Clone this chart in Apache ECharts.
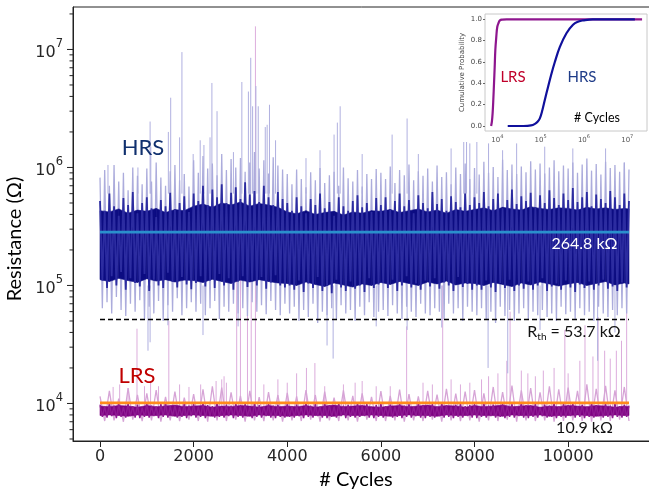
<!DOCTYPE html>
<html><head><meta charset="utf-8">
<script src="https://cdn.jsdelivr.net/npm/echarts@6/dist/echarts.min.js"></script>
<style>html,body{margin:0;padding:0;background:#fff}#c{width:649px;height:498px}</style>
</head><body><div id="c"></div>
<script>
// ---------- data (resistance in kΩ, cycles on x) ----------
const coreStep = 50;    // cycles between successive peak/trough readings
const bandStep = 200;   // cycles between successive solid-band edge readings
const cycleEnd = 11300;

// HRS: edges of the solid dark band
const hrsBandTop = [430,420,445,410,435,425,450,415,440,430, 470,490,460,500,480,510,470,495,480,460,
  420,405,430,400,415,425,395,420,410,430, 425,440,415,430,445,420,435,410,440,425,
  440,455,430,460,445,435,465,450,440,455, 450,435,460,445,455,440,450,445];
const hrsBandBot = [112,108,115,110,106,114,109,112,107,111, 110,106,113,108,104,111,107,112,108,105,
  104,100,107,102,98,105,101,97,103,100, 106,102,108,104,100,107,103,109,101,105,
  104,100,106,102,98,105,101,107,103,99, 103,106,100,104,108,101,105,103];
// HRS: alternating local peaks / troughs of the dark core
const hrsCore = [
520,110,430,95,600,120,470,100,390,130,550,92,480,115,620,105,410,98,500,125,
560,90,450,112,380,100,530,95,470,128,610,108,440,96,500,118,570,102,420,93,
600,105,520,120,700,98,480,110,650,95,560,125,720,100,500,115,610,92,680,108,
540,120,750,97,590,110,630,100,510,118,700,94,560,106,480,122,620,100,540,96,
500,100,430,92,560,110,470,88,410,104,540,95,480,118,600,90,450,100,510,86,
390,112,560,96,470,90,430,108,520,94,580,100,460,88,500,115,420,95,550,102,
480,105,560,95,440,112,520,90,600,100,470,120,530,96,410,104,580,92,500,110,
450,98,620,115,490,94,540,106,430,100,570,90,510,118,460,97,600,103,480,92,
560,100,500,92,620,110,470,96,540,88,600,105,450,95,530,112,650,90,490,100,
570,94,520,108,610,92,460,100,580,115,500,90,640,98,550,104,480,92,600,110,
530,96,670,88,510,102,560,95,620,108,470,92,590,100,540,112,500,94,630,98,
560,90,480,106,600,96,520];
// HRS: alternating peaks / troughs of the light outer envelope
const hrsLight = [
820,64,950,72,700,58,1050,80,760,62,900,55,640,70,1000,60,850,75,720,52,
980,66,760,58,1100,74,820,50,700,68,930,60,1050,78,780,56,880,64,690,72,
1150,60,900,70,1250,56,980,64,1080,74,860,52,1300,66,950,60,1180,70,1000,58,
1200,64,920,55,1100,72,1350,60,980,68,1150,57,890,74,1220,62,1040,56,960,70,
880,58,720,66,960,50,800,62,680,54,910,70,780,48,990,60,740,56,860,64,
920,52,700,68,1000,58,810,62,760,50,950,66,690,56,880,72,800,54,970,60,
900,62,800,55,1020,68,740,58,950,52,860,66,1060,60,780,54,930,70,850,58,
980,56,760,64,1040,60,830,52,910,70,720,58,1000,64,880,50,1080,66,800,60,
990,56,870,64,1120,52,900,60,1010,48,830,66,1160,55,950,62,1060,50,880,58,
1020,64,910,52,1130,60,960,56,1080,62,890,54,1000,58,1150,50,930,66,1040,57,
980,60,1100,52,900,64,1060,56,1190,60,940,50,1070,66,870,58,1120,54,990,62,
1050,56,920,64,1100,58,960];
// HRS: isolated tall excursions [cycle, kΩ]
const hrsSpikes = [[170,1050],[810,1000],[1070,2450],[1085,1500],[1460,2000],[1510,3900],[1700,1800],[1750,9500],
[1990,1300],[2140,1700],[2220,1550],[2350,1800],[2390,5200],[2500,3000],[2850,1350],[3030,5300],[3170,4400],
[3220,8500],[3260,3300],[3330,4900],[3380,3300],[3530,2200],[3570,2300],[3620,3400],[3750,1700],[4400,1200],
[4700,1400],[5000,1900],[5070,2400],[5130,3300],[5600,1300],[6240,1900],[6560,2600],[6800,1300],[7500,1450],
[7770,1650],[7830,2200],[7900,1600],[8050,2600],[8300,1600],[8600,1400],[8900,1600],[9500,1500],[10100,1450],
[10800,1450],[11200,1100]];
// HRS: isolated low excursions [cycle, kΩ]
const hrsDips = [[1025,28],[1070,33],[1450,46],[2200,38],[2950,45],[4850,31],[4980,24],[5900,45],[6560,42],
[7300,44],[8290,20],[8710,18],[9400,42],[10630,23],[11000,40]];

// LRS: edges of the solid dark band
const lrsBandTop = [9.5,9.4,9.6,9.5,9.3,9.6,9.4,9.5,9.7,9.4, 9.5,9.6,9.3,9.5,9.4,9.6,9.5,9.3,9.6,9.4,
  9.5,9.4,9.6,9.3,9.5,9.7,9.4,9.5,9.6,9.4, 9.3,9.5,9.6,9.4,9.5,9.7,9.4,9.6,9.5,9.3,
  9.6,9.4,9.5,9.7,9.4,9.5,9.6,9.3,9.5,9.4, 9.6,9.5,9.4,9.6,9.5,9.3,9.5,9.4];
const lrsBandBot = [7.9,8.0,7.9,7.8,8.0,7.9,7.9,8.0,7.8,7.9, 8.0,7.9,7.8,7.9,8.0,7.9,7.8,8.0,7.9,7.9,
  7.8,7.9,8.0,7.9,7.9,7.8,8.0,7.9,7.9,8.0, 7.9,7.8,7.9,8.0,7.9,7.9,7.8,8.0,7.9,7.9,
  8.0,7.9,7.9,7.8,8.0,7.9,7.9,8.0,7.8,7.9, 7.9,8.0,7.9,7.8,7.9,8.0,7.9,7.9];
// LRS: alternating local peaks / troughs of the dark core
const lrsCore = [
9.8,7.7,9.4,7.6,10.1,7.8,9.6,7.5,9.9,7.7,9.3,7.6,10.0,7.8,9.5,7.6,9.8,7.5,9.2,7.7,
10.1,7.6,9.6,7.8,9.4,7.5,9.9,7.7,10.2,7.6,9.5,7.8,9.7,7.6,9.3,7.7,10.0,7.5,9.6,7.8,
9.9,7.6,9.4,7.7,10.1,7.5,9.7,7.8,9.5,7.6,10.2,7.7,9.3,7.6,9.8,7.8,9.6,7.5,10.0,7.7,
9.5,7.6,9.9,7.8,9.3,7.5,10.1,7.7,9.7,7.6,9.4,7.8,10.0,7.6,9.6,7.5,9.8,7.7,9.2,7.6,
10.0,7.7,9.5,7.6,9.8,7.8,9.3,7.5,10.1,7.7,9.6,7.6,9.9,7.8,9.4,7.6,10.2,7.5,9.7,7.7,
9.4,7.6,10.0,7.8,9.6,7.5,9.8,7.7,9.3,7.6,10.1,7.7,9.5,7.8,9.9,7.6,9.2,7.5,9.7,7.7,
10.0,7.6,9.5,7.8,9.8,7.6,9.4,7.7,10.2,7.5,9.6,7.7,9.9,7.6,9.3,7.8,10.0,7.6,9.7,7.5,
9.5,7.7,9.9,7.6,9.3,7.8,10.1,7.6,9.6,7.7,9.4,7.5,9.8,7.7,10.0,7.6,9.5,7.8,9.7,7.6,
9.9,7.5,9.4,7.7,10.1,7.6,9.6,7.8,9.8,7.6,9.3,7.7,10.0,7.5,9.5,7.7,9.9,7.6,9.4,7.8,
10.2,7.6,9.7,7.5,9.5,7.7,10.0,7.6,9.3,7.8,9.8,7.6,9.6,7.7,10.1,7.5,9.4,7.7,9.9,7.6,
9.6,7.8,10.0,7.6,9.5,7.7,9.8,7.5,9.3,7.7,10.1,7.6,9.7,7.8,9.4,7.6,9.9,7.7,9.6,7.5,
10.0,7.7,9.5,7.6,9.8,7.7,9.6];
// LRS: alternating peaks / troughs of the light envelope (every 100 cycles)
const lrsLight = [
11.5,7.1,12.8,7.2,11.0,7.0,13.5,7.3,11.8,7.1,12.2,7.2,13.0,7.0,11.4,7.2,12.6,7.1,11.2,7.3,
12.0,7.1,13.2,7.0,14.0,7.2,13.6,7.1,12.4,7.3,11.6,7.0,12.8,7.2,11.3,7.1,12.5,7.2,11.8,7.0,
12.3,7.2,11.5,7.1,13.0,7.3,11.8,7.0,12.6,7.2,11.2,7.1,12.9,7.2,11.6,7.0,12.2,7.3,11.4,7.1,
12.7,7.1,11.6,7.2,13.1,7.0,12.0,7.2,11.5,7.1,12.8,7.3,11.9,7.0,13.3,7.2,12.1,7.1,12.6,7.2,
13.0,7.0,12.2,7.2,13.8,7.1,12.5,7.3,14.2,7.0,12.9,7.2,13.5,7.1,12.4,7.2,14.0,7.0,13.2,7.1,
13.6,7.2,12.8,7.1,14.5,7.0,13.3,7.2,14.1,7.1,12.9,7.3,13.8,7.1];
const lrsLightStep = 100;
// LRS: isolated high excursions [cycle, kΩ]
const lrsSpikes = [[280,13.8],[420,14.5],[600,13.5],[790,43],[950,14],[1080,15],[1250,14],[1470,50],[1700,14.5],
[1900,13.8],[2150,14.5],[2480,15.5],[2600,16],[2650,17],[2700,15],[2920,300],[3000,250],[3150,400],[3230,280],
[3320,15700],[3500,14.5],[3800,16],[4000,15],[4200,18],[4410,20],[4590,22],[4800,14],[5200,14.5],[5450,15],
[5600,15.5],[5900,14],[6200,14],[6550,45],[6900,15],[7100,14.5],[7320,100],[7500,16],[7700,14.5],[7900,15],
[8150,16],[8300,17],[8500,18],[8690,23],[8760,60],[9000,19],[9140,18],[9300,17],[9470,19],[9700,20],[9930,42],
[10000,18],[10250,23],[10360,46],[10530,25],[10640,54],[10780,28],[10900,24],[11030,28],[11140,34],[11250,75]];

// reference levels drawn as horizontal lines (kΩ)
const hrsLevel = 283, lrsLevel = 10.1, rthLevel = 51.5;

// tick values
const xTicks = [0, 2000, 4000, 6000, 8000, 10000];
const yMajor = [1e4, 1e5, 1e6, 1e7];
const yMinor = [5e3,6e3,7e3,8e3,9e3, 2e4,3e4,4e4,5e4,6e4,7e4,8e4,9e4, 2e5,3e5,4e5,5e5,6e5,7e5,8e5,9e5,
                2e6,3e6,4e6,5e6,6e6,7e6,8e6,9e6, 2e7];
const insetYTicks = [0, 0.2, 0.4, 0.6, 0.8, 1.0];

// inset cumulative distributions (resistance kΩ, probability)
const cdfLrsR = [7.2, 7.5, 7.8, 8.1, 8.4, 8.7, 9.0, 9.5, 10.0, 10.8, 11.5, 13, 16.4, 40, 300, 3000, 22000];
const cdfLrsP = [0, 0.04, 0.12, 0.25, 0.40, 0.55, 0.71, 0.84, 0.93, 0.97, 0.99, 0.997, 1, 1, 1, 1, 1];
const cdfHrsR = [17.4, 40, 60, 74, 85, 96, 110, 125, 149, 178, 213, 277, 395, 560, 750, 950, 1600, 5000, 15000];
const cdfHrsP = [0, 0, 0.005, 0.02, 0.04, 0.072, 0.15, 0.244, 0.368, 0.49, 0.60, 0.74, 0.87, 0.95, 0.98, 0.99, 1, 1, 1];

// ---------- build ----------
const K = 1000;
const xMin = -577, xMax = 11877;
const zig = (arr, step) => arr.map((v, i) => [Math.min(i * step, cycleEnd), v * K]);
const spikes = (arr, baseK) => arr.map(s => [s[0], s[1] * K, baseK * K]);
const level = v => [[0, v * K], [cycleEnd, v * K]];
const band = (top, bot) => top.map((t, i) => [Math.min(i * bandStep, cycleEnd), t * K, bot[i] * K]);

function vline(color, width) {
  return function (params, api) {
    const a = api.coord([api.value(0), api.value(2)]);
    const b = api.coord([api.value(0), api.value(1)]);
    return { type: 'line', shape: { x1: a[0], y1: a[1], x2: b[0], y2: b[1] },
             style: { stroke: color, lineWidth: width } };
  };
}
function bandRender(data, color) {
  return function (params, api) {
    const i = params.dataIndex;
    if (i >= data.length - 1) return null;
    const d0 = data[i], d1 = data[i + 1];
    const pts = [api.coord([d0[0], d0[1]]), api.coord([d1[0], d1[1]]),
                 api.coord([d1[0], d1[2]]), api.coord([d0[0], d0[2]])];
    return { type: 'polygon', shape: { points: pts }, style: { fill: color, stroke: color, lineWidth: 0.6 } };
  };
}
const isDecade = v => { const e = Math.log10(v); return Math.abs(e - Math.round(e)) < 1e-6; };
const powLabel = v => isDecade(v) ? '{b|10}{s|' + Math.round(Math.log10(v)) + '}' : '';

// text measuring for the subscript label
const mctx = document.createElement('canvas').getContext('2d');
const tw = (t, f) => { mctx.font = f; return mctx.measureText(t).width; };
const rthParts = ['R', 'th', ' = 53.7 kΩ'];
const wR = tw(rthParts[0], '16px Lato'), wT = tw(rthParts[1], '10px Lato'), wE = tw(rthParts[2], '16px Lato');
const rthX0 = 574 - (wR + wT + wE) / 2;

const hrsBandData = band(hrsBandTop, hrsBandBot);
const lrsBandData = band(lrsBandTop, lrsBandBot);

const chart = echarts.init(document.getElementById('c'), null, { renderer: 'canvas' });
chart.setOption({
  animation: false,
  backgroundColor: '#fff',
  grid: [
    { left: 73, right: -7, top: 7, bottom: 57, show: true, borderColor: '#222', borderWidth: 1,
      containLabel: false, outerBoundsMode: 'none' },
    { left: 485, top: 14, width: 162, height: 117, show: true, borderColor: '#c8c8c8', borderWidth: 1,
      backgroundColor: '#fff', z: 20, containLabel: false, outerBoundsMode: 'none' }
  ],
  xAxis: [
    { type: 'value', gridIndex: 0, min: xMin, max: xMax,
      axisLine: { show: true, onZero: false, lineStyle: { color: '#222', width: 1 } },
      axisTick: { show: true, length: 6, customValues: xTicks, lineStyle: { color: '#222' } },
      axisLabel: { customValues: xTicks, margin: 8, fontFamily: 'DejaVu Sans', fontSize: 16, color: '#262626',
                   formatter: v => (xTicks.indexOf(v) >= 0 ? String(v) : '') },
      splitLine: { show: false },
      name: '# Cycles', nameLocation: 'middle', nameGap: 20,
      nameTextStyle: { fontFamily: 'Lato', fontSize: 20, color: '#000', padding: [0, 17, 0, 0] } },
    { type: 'log', gridIndex: 1, min: 5200, max: 28600000, z: 21,
      axisLine: { show: false, onZero: false }, axisTick: { show: false }, splitLine: { show: false },
      axisLabel: { margin: 3, formatter: powLabel,
        rich: { b: { fontFamily: 'DejaVu Sans', fontSize: 7, color: '#555', lineHeight: 10, verticalAlign: 'bottom' },
                s: { fontFamily: 'DejaVu Sans', fontSize: 5, color: '#555', lineHeight: 6, verticalAlign: 'top' } } } }
  ],
  yAxis: [
    { type: 'log', gridIndex: 0, min: 4808, max: 22900000,
      axisLine: { show: true, onZero: false, lineStyle: { color: '#222', width: 1 } },
      axisTick: { show: false }, splitLine: { show: false }, minorTick: { show: false },
      axisLabel: { margin: 10, formatter: powLabel,
        rich: { b: { fontFamily: 'DejaVu Sans', fontSize: 16, color: '#262626', lineHeight: 22, verticalAlign: 'bottom' },
                s: { fontFamily: 'DejaVu Sans', fontSize: 11.5, color: '#262626', lineHeight: 12, verticalAlign: 'top' } } },
      name: 'Resistance (Ω)', nameLocation: 'middle', nameGap: 46, nameRotate: 90,
      nameTextStyle: { fontFamily: 'Lato', fontSize: 20, color: '#000', padding: [0, 30, 0, 0] } },
    { type: 'value', gridIndex: 1, min: -0.047, max: 1.05, z: 21,
      axisLine: { show: false, onZero: false }, splitLine: { show: false },
      axisTick: { show: true, length: 2, customValues: insetYTicks, lineStyle: { color: '#666' } },
      axisLabel: { customValues: insetYTicks, margin: 3, fontFamily: 'DejaVu Sans', fontSize: 7, color: '#444',
                   formatter: v => v.toFixed(1) },
      name: 'Cumulative Probability', nameLocation: 'middle', nameGap: 19,
      nameTextStyle: { fontFamily: 'DejaVu Sans', fontSize: 7, color: '#444' } }
  ],
  series: [
    { type: 'custom', name: 'LRS spikes', renderItem: vline('rgba(214,158,214,0.85)', 1), clip: true,
      data: spikes(lrsSpikes, 9.5), z: 2, silent: true },
    { type: 'line', name: 'HRS outer', data: zig(hrsLight, coreStep), showSymbol: false, symbol: 'none',
      lineStyle: { color: '#acacdc', width: 1.3 }, z: 3, silent: true },
    { type: 'custom', name: 'HRS spikes', renderItem: vline('#b0b0e0', 1), clip: true,
      data: spikes(hrsSpikes, 600), z: 3, silent: true },
    { type: 'custom', name: 'HRS dips', renderItem: vline('#b0b0e0', 1), clip: true,
      data: spikes(hrsDips, 100), z: 3, silent: true },
    { type: 'line', name: 'HRS', data: zig(hrsCore, coreStep), showSymbol: false, symbol: 'none',
      lineStyle: { color: '#2c2ca0', width: 1.8 }, z: 4, silent: true },
    { type: 'custom', name: 'HRS band', renderItem: bandRender(hrsBandData, '#0c0c82'), clip: true,
      data: hrsBandData, z: 4, silent: true },
    { type: 'line', name: 'LRS outer', data: zig(lrsLight, lrsLightStep), showSymbol: false, symbol: 'none',
      lineStyle: { color: '#d6a4d6', width: 1.3 }, z: 4, silent: true },
    { type: 'line', name: 'LRS', data: zig(lrsCore, coreStep), showSymbol: false, symbol: 'none',
      lineStyle: { color: '#8e1a92', width: 1.4 }, z: 5, silent: true },
    { type: 'custom', name: 'LRS band', renderItem: bandRender(lrsBandData, '#7e0282'), clip: true,
      data: lrsBandData, z: 5, silent: true },
    { type: 'line', name: 'Rth', data: level(rthLevel), showSymbol: false, symbol: 'none',
      lineStyle: { color: '#000', width: 1.3, type: [5, 3] }, z: 6, silent: true },
    { type: 'line', name: 'HRS median', data: level(hrsLevel), showSymbol: false, symbol: 'none',
      lineStyle: { color: '#2a8fcc', width: 2.6 }, z: 6, silent: true },
    { type: 'line', name: 'LRS median', data: level(lrsLevel), showSymbol: false, symbol: 'none',
      lineStyle: { color: '#ff8a1c', width: 2.8 }, z: 6, silent: true },
    { type: 'custom', name: 'y ticks', clip: false, silent: true, z: 6,
      data: yMajor.map(v => [xMin, v, 6]).concat(yMinor.map(v => [xMin, v, 3.5])),
      renderItem: (params, api) => {
        const p = api.coord([xMin, api.value(1)]);
        const len = api.value(2);
        return { type: 'line', shape: { x1: p[0] - len, y1: p[1], x2: p[0], y2: p[1] },
                 style: { stroke: '#222', lineWidth: 1 } };
      } },
    { type: 'line', name: 'LRS CDF', xAxisIndex: 1, yAxisIndex: 1, z: 30, smooth: 0.4,
      data: cdfLrsR.map((r, i) => [r * K, cdfLrsP[i]]), showSymbol: false, symbol: 'none',
      lineStyle: { color: '#8e168e', width: 2.2 }, silent: true },
    { type: 'line', name: 'HRS CDF', xAxisIndex: 1, yAxisIndex: 1, z: 31, smooth: 0.4,
      data: cdfHrsR.map((r, i) => [r * K, cdfHrsP[i]]), showSymbol: false, symbol: 'none',
      lineStyle: { color: '#10109c', width: 2.2 }, silent: true }
  ],
  graphic: [
    { type: 'rect', z: 10, silent: true, shape: { x: 455, y: 9, width: 194, height: 133 },
      style: { fill: '#fff' } },
    { type: 'text', z: 50, x: 143, y: 148, style: { text: 'HRS', fontFamily: 'Lato', fontSize: 22,
      fill: '#10306e', align: 'center', verticalAlign: 'middle' } },
    { type: 'text', z: 50, x: 137, y: 376, style: { text: 'LRS', fontFamily: 'Lato', fontSize: 22,
      fill: '#c00000', align: 'center', verticalAlign: 'middle' } },
    { type: 'text', z: 50, x: 584.5, y: 244, style: { text: '264.8 kΩ', fontFamily: 'Lato', fontSize: 16,
      fill: '#fff', align: 'center', verticalAlign: 'middle' } },
    { type: 'text', z: 50, x: rthX0, y: 331.5, style: { text: rthParts[0], fontFamily: 'Lato', fontSize: 16,
      fill: '#111', align: 'left', verticalAlign: 'middle' } },
    { type: 'text', z: 50, x: rthX0 + wR, y: 336.5, style: { text: rthParts[1], fontFamily: 'Lato', fontSize: 10,
      fill: '#111', align: 'left', verticalAlign: 'middle' } },
    { type: 'text', z: 50, x: rthX0 + wR + wT, y: 331.5, style: { text: rthParts[2], fontFamily: 'Lato', fontSize: 16,
      fill: '#111', align: 'left', verticalAlign: 'middle' } },
    { type: 'text', z: 50, x: 584.5, y: 428, style: { text: '10.9 kΩ', fontFamily: 'Lato', fontSize: 16,
      fill: '#111', align: 'center', verticalAlign: 'middle' } },
    { type: 'text', z: 50, x: 513, y: 77, style: { text: 'LRS', fontFamily: 'Lato', fontSize: 15,
      fill: '#c0002a', align: 'center', verticalAlign: 'middle' } },
    { type: 'text', z: 50, x: 582, y: 77, style: { text: 'HRS', fontFamily: 'Lato', fontSize: 15,
      fill: '#1f3c88', align: 'center', verticalAlign: 'middle' } },
    { type: 'text', z: 50, x: 597, y: 118, style: { text: '# Cycles', fontFamily: 'Lato', fontSize: 12.5,
      fill: '#000', align: 'center', verticalAlign: 'middle' } }
  ]
});
</script>
</body></html>
